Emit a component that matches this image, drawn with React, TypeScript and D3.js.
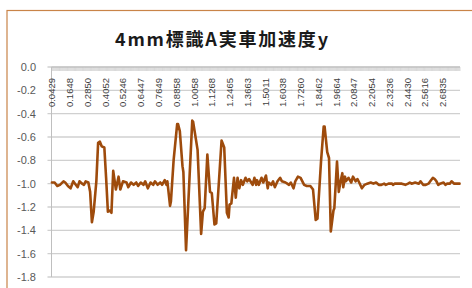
import React from "react";
import * as d3 from "d3";

// category count on the x axis (one tick per sample)
const sampleCount = 460;
const labelEvery = 20;

const timeLabels = [
  "0.0429", "0.1648", "0.2850", "0.4052", "0.5246", "0.6447", "0.7649", "0.8858",
  "1.0058", "1.1268", "1.2465", "1.3663", "1.5011", "1.6038", "1.7260", "1.8462",
  "1.9664", "2.0847", "2.2054", "2.3236", "2.4430", "2.5616", "2.6835",
];

const yTicks = [0, -0.2, -0.4, -0.6, -0.8, -1.0, -1.2, -1.4, -1.6, -1.8];

// sample index of each vertex
const sampleIdx = [
  0, 3, 6, 9, 13, 15, 18, 21, 24, 26, 29, 31, 34, 36, 38, 41, 43, 45, 47, 50,
  52, 54, 56, 59, 61, 63, 65, 67, 69, 72, 75, 77, 80, 84, 86, 89, 92, 95, 97, 100,
  103, 105, 108, 111, 114, 116, 119, 122, 124, 127, 129, 130, 133, 134, 137, 141, 142, 144, 147, 148,
  151, 158, 159, 164, 168, 170, 172, 175, 178, 180, 183, 185, 191, 194, 197, 199, 200, 202, 205, 207,
  209, 211, 213, 215, 218, 220, 222, 226, 228, 230, 231, 233, 236, 238, 241, 243, 244, 247, 249, 251,
  254, 257, 259, 263, 265, 267, 269, 272, 274, 277, 280, 284, 287, 291, 294, 297, 299, 303, 306, 307,
  310, 312, 314, 317, 318, 321, 323, 325, 327, 328, 330, 331, 334, 337, 339, 342, 344, 346, 349, 352,
  355, 359, 362, 365, 368, 371, 374, 376, 379, 383, 384, 386, 390, 394, 398, 401, 403, 405, 409, 413,
  415, 418, 421, 424, 426, 429, 431, 433, 435, 437, 441, 443, 445, 448, 450, 453, 456, 459,
];

const accelY = [
  -0.99, -0.99, -1.02, -1.01, -0.98, -0.99, -1.02, -1.04, -0.98, -1.0, -1.03, -0.98, -1.0, -1.01, -0.98, -0.99, -1.07, -1.33, -1.24, -0.98,
  -0.65, -0.64, -0.68, -0.69, -0.95, -1.24, -1.23, -1.25, -0.89, -1.05, -0.94, -1.05, -0.98, -0.99, -1.03, -0.99, -1.01, -0.99, -1.02, -0.99,
  -1.01, -0.98, -1.04, -0.99, -1.01, -0.98, -1.01, -0.99, -1.01, -0.97, -1.01, -0.98, -1.19, -1.15, -0.8, -0.49, -0.49, -0.55, -0.85, -0.9,
  -1.57, -0.46, -0.47, -0.71, -1.43, -1.24, -1.21, -0.75, -1.07, -1.08, -1.35, -1.34, -0.63, -0.69, -1.25, -1.29, -1.18, -1.17, -0.95, -1.12,
  -0.95, -1.04, -0.97, -1.01, -0.95, -0.98, -0.96, -1.01, -0.95, -1.01, -0.97, -1.01, -0.95, -0.99, -0.93, -1.04, -0.99, -1.01, -0.98, -1.03,
  -0.98, -0.95, -0.98, -0.99, -1.0, -1.01, -0.99, -1.04, -0.98, -0.94, -0.95, -1.01, -1.02, -1.02, -1.05, -1.31, -1.3, -0.81, -0.51, -0.51,
  -0.73, -0.78, -1.41, -1.23, -1.21, -0.81, -1.07, -0.98, -0.91, -1.03, -0.94, -0.98, -0.95, -0.99, -0.94, -0.98, -0.96, -0.99, -1.04, -1.01,
  -1.0, -0.99, -1.0, -0.99, -1.01, -1.01, -1.0, -1.01, -1.0, -1.0, -1.01, -1.0, -1.0, -1.0, -1.01, -1.0, -0.99, -1.0, -0.99, -1.0,
  -0.98, -1.01, -1.01, -1.0, -0.98, -0.95, -0.96, -0.98, -1.01, -1.0, -0.99, -1.01, -1.0, -1.0, -0.98, -1.0, -1.0, -1.0,
];

const W = 472;
const H = 288;
const plot = { left: 51.5, right: 460, top: 67, bottom: 277 };
const labelFont = "'Liberation Sans', Arial, sans-serif";

export default function App() {
  const x = d3.scaleLinear().domain([0, sampleCount]).range([plot.left, plot.right]);
  const y = d3.scaleLinear().domain([0, -1.8]).range([plot.top, plot.bottom]);

  const points: [number, number][] = sampleIdx.map((i, k) => [i, accelY[k]]);
  const line = d3
    .line<[number, number]>()
    .x((d) => x(d[0] + 0.5))
    .y((d) => y(d[1]));

  const tickIdx = d3.range(sampleCount + 1);

  return (
    <svg
      width={W}
      height={H}
      style={{ position: "absolute", left: 0, top: 0, background: "#fff" }}
    >
      <rect x={7} y={10.5} width={W + 10} height={H + 10} fill="#fff" stroke="#C98448" strokeWidth={1.2} />

      <text
        x={221.5}
        y={46}
        textAnchor="middle"
        fontFamily="'Noto Sans CJK JP', sans-serif"
        fontWeight="bold"
        fontSize={18}
        fill="#1a1a1a"
        textLength={213}
        lengthAdjust="spacing"
      >
        4mm標識A実車加速度y
      </text>

      {/* gridlines + y axis labels */}
      {yTicks.map((v) => (
        <g key={v}>
          <line x1={plot.left - 4} x2={plot.right} y1={y(v)} y2={y(v)} stroke="#D0D0D0" strokeWidth={1.3} />
          <text
            x={36}
            y={y(v)}
            dy="0.35em"
            textAnchor="end"
            fontFamily={labelFont}
            fontSize={11}
            fill="#595959"
          >
            {v.toFixed(1)}
          </text>
        </g>
      ))}

      <line x1={plot.left} x2={plot.left} y1={plot.top} y2={plot.bottom} stroke="#BFBFBF" strokeWidth={1} />

      {/* category axis along the zero line */}
      <line x1={plot.left} x2={plot.right} y1={plot.top} y2={plot.top} stroke="#BFBFBF" strokeWidth={1} />
      {tickIdx.map((i) => (
        <line key={i} x1={x(i)} x2={x(i)} y1={plot.top} y2={plot.top + 4} stroke="#C4C4C4" strokeWidth={0.6} />
      ))}
      {timeLabels.map((t, k) => {
        const cx = x(k * labelEvery + 0.5);
        return (
          <text
            key={t}
            transform={`translate(${cx + 3.5},${plot.top + 11}) rotate(-90)`}
            textAnchor="end"
            fontFamily={labelFont}
            fontSize={9.5}
            fill="#404040"
          >
            {t}
          </text>
        );
      })}

      <path
        d={line(points) || ""}
        fill="none"
        stroke="#9E4B0C"
        strokeWidth={2.6}
        strokeLinejoin="round"
        strokeLinecap="round"
      />
    </svg>
  );
}
